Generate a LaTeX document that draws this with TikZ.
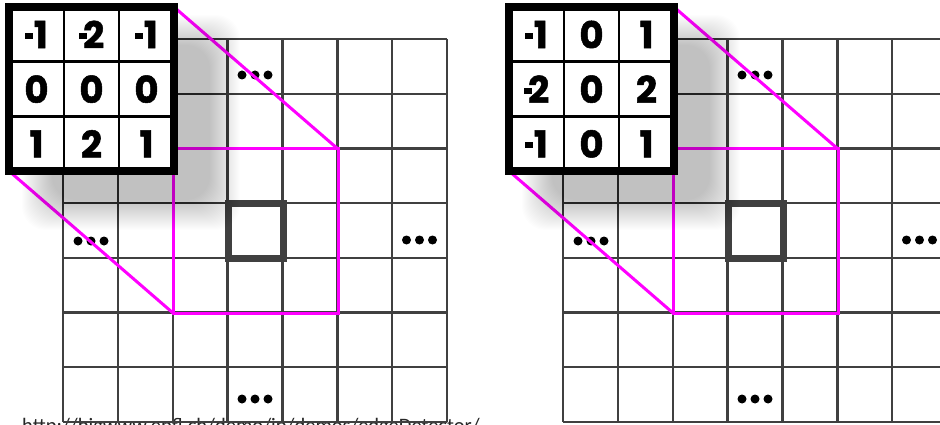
\documentclass[tikz,border=0pt]{standalone}
\usepackage{fontspec}
\newfontfamily\kernfont{Poppins}[BoldFeatures={FakeBold=1.4}]
\newfontfamily\linkfont{Carlito}
\newcommand{\mns}{\rule[.25em]{.22em}{.16em}\kern.01em}
\newcommand{\mnstwo}{\rule[.25em]{.22em}{.16em}\kern-.1em}
\definecolor{hotpink}{RGB}{255,0,255}
\pgfdeclarelayer{back}
\pgfsetlayers{back,main}
\begin{document}
\begin{tikzpicture}[x=1pt,y=-1pt,line cap=rect,
 gridline/.style={draw=black!75,line width=2.4},
 hot/.style={draw=hotpink,line width=3},
 window/.style={hot,minimum width=165,minimum height=164,inner sep=0,outer sep=0},
 centre/.style={draw=black!75,line width=6.5,minimum size=55,inner sep=0,outer sep=0},
 kernel/.style={draw=black,fill=white,line width=8,minimum width=165,minimum height=164,inner sep=0,outer sep=0},
 digit/.style={inner sep=0,font=\kernfont\bfseries\fontsize{37}{37}\selectfont}]
\useasboundingbox (0,0) rectangle (940,425);
\begin{pgfonlayer}{back}
 \fill[white] (0,0) rectangle (940,425);
 \node[anchor=base west,inner sep=0,text=black!85,font=\linkfont\fontsize{20.5}{20.5}\selectfont] (link) at (22,432) {http://bigwww.epfl.ch/demo/ip/demos/edgeDetector/};
\end{pgfonlayer}
\foreach \offset/\p/\vals in {0/a/{\mns1,\mnstwo2,\mns1,0,0,0,1,2,1},500/b/{\mns1,0,1,\mnstwo2,0,2,\mns1,0,1}} {
 \begin{scope}[shift={(\offset,0)}]
 \foreach \s in {0,1,...,30}
  \fill[black,fill opacity=.009,rounded corners=24] ({22+\s},{15+\s}) rectangle ({240-\s},{230-\s});
 \node[kernel] (kern\p) at (91.5,89) {};
 \foreach \j in {1,2} {
  \draw[line width=2.5] ({9+55*\j},7) -- ({9+55*\j},171);
  \draw[line width=2.5] (9,{7+54.7*\j}) -- (174,{7+54.7*\j});
 }
 \foreach \v [count=\n from 0] in \vals
  \node[digit] (d\p\n) at ({36.5+55*mod(\n,3)},{34.5+54.7*floor(\n/3)}) {\v};
 \begin{pgfonlayer}{back}
  \foreach \i in {0,...,7} {
   \draw[gridline] ({63+54.86*\i},39) -- ({63+54.86*\i},422);
   \draw[gridline] (63,{39+54.71*\i}) -- (447,{39+54.71*\i});
  }
  \node[window] (win\p) at (255.5,231) {};
  \node[centre] (mid\p) at (256,231) {};
  \foreach \dx/\dy in {255/75,91/241,419.5/240,255/399}
   \foreach \k in {-13,0,13} \fill ({\dx+\k},\dy) circle (4.5pt);
  \draw[hot] (kern\p.north east) -- (win\p.north east);
  \draw[hot] (kern\p.south west) -- (win\p.south west);
 \end{pgfonlayer}
 \end{scope}
}
\end{tikzpicture}
\end{document}
